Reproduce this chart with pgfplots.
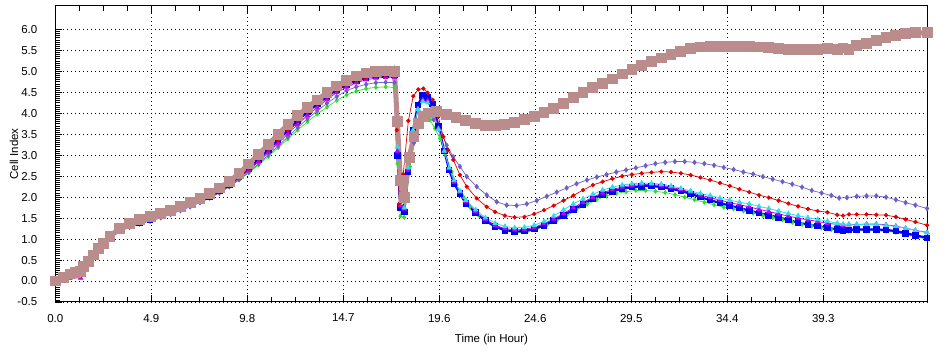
\documentclass[border=0pt]{standalone}
\usepackage{fontspec}
\setmainfont{Liberation Sans}
\usepackage{pgfplots}
\pgfplotsset{compat=1.18}
\definecolor{cbrown}{RGB}{186,140,140}
\definecolor{cred}{RGB}{225,0,0}
\definecolor{cblue}{RGB}{0,0,245}
\definecolor{ccyan}{RGB}{50,220,230}
\definecolor{cmag}{RGB}{200,0,240}
\definecolor{cslate}{RGB}{110,95,200}
\definecolor{cgreen}{RGB}{40,225,40}
\begin{document}
\fontsize{11.5}{13}\selectfont
\begin{tikzpicture}
\useasboundingbox (-55.3pt,-50pt) rectangle (891.7pt,302pt);
\begin{axis}[at={(0pt,0pt)}, anchor=south west, scale only axis,
  width=872.4pt, height=296pt,
  xmin=0, xmax=44.63, ymin=-0.5, ymax=6.56,
  xtick={0,4.911,9.822,14.733,19.644,24.555,29.466,34.377,39.288},
  xticklabels={0.0,4.9,9.8,14.7,19.6,24.6,29.5,34.4,39.3},
  minor x tick num=3,
  ytick={-0.5,0,0.5,1,1.5,2,2.5,3,3.5,4,4.5,5,5.5,6},
  yticklabels={-0.5,0.0,0.5,1.0,1.5,2.0,2.5,3.0,3.5,4.0,4.5,5.0,5.5,6.0},
  minor y tick num=9,
  xtick pos=both, ytick pos=left,
  tick align=inside,
  major tick length=7pt, minor tick length=5pt,
  grid=major,
  major grid style={black, dash pattern=on 1pt off 3pt, line width=0.7pt},
  axis line style={black, line width=1pt},
  tick style={black, line width=0.8pt},
  yticklabel style={xshift=-14pt},
  xticklabel style={yshift=-8pt},
  xlabel={Time (in Hour)}, ylabel={Cell Index},
  xlabel style={at={(axis description cs:0.5,-0.128)}, anchor=center},
  ylabel style={at={(axis description cs:-0.0473,0.5)}, anchor=center},
]
% green
\addplot[cgreen, line width=0.7pt, mark=diamond*, mark size=2pt, mark options={solid}] coordinates {
(0,0)(0.4,0.08)(0.75,0.16)(1.05,0.19)(1.3,0.21)(1.45,0.33)(1.7,0.45)(1.95,0.60)(2.2,0.74)(2.45,0.87)(2.8,1.03)
(3.3,1.20)(3.8,1.31)(4.3,1.39)(4.85,1.46)(5.4,1.53)(5.9,1.61)(6.4,1.70)(6.9,1.79)(7.4,1.88)(7.9,1.99)(8.4,2.11)(8.9,2.25)(9.4,2.41)(9.9,2.58)(10.4,2.77)(10.9,2.97)(11.4,3.18)(11.9,3.39)(12.4,3.60)(12.9,3.80)(13.4,3.98)(13.9,4.15)(14.4,4.31)(14.9,4.44)(15.4,4.53)(15.9,4.59)(16.4,4.62)(16.9,4.63)(17.35,4.62)
(17.5,2.8)(17.65,1.55)(17.85,1.52)(18.15,2.73)(18.4,3.44)(18.66,3.84)(18.91,3.92)(19.17,3.84)(19.42,3.64)(19.68,3.40)(19.93,3.04)(20.28,2.61)(20.53,2.29)(20.87,2.01)(21.21,1.77)(21.64,1.57)(22.07,1.41)(22.58,1.27)(23.09,1.19)(23.6,1.15)(24.12,1.17)(24.63,1.24)(25.14,1.33)(25.65,1.44)(26.16,1.56)(26.67,1.70)(27.2,1.83)(27.7,1.94)(28.2,2.03)(28.7,2.09)(29.2,2.13)(29.7,2.16)(30.2,2.16)(30.7,2.14)(31.2,2.11)(31.7,2.06)(32.2,2.00)(32.7,1.94)(33.2,1.88)(33.7,1.82)(34.2,1.76)(34.7,1.72)(35.2,1.67)(35.7,1.62)(36.2,1.56)(36.7,1.51)(37.2,1.46)(37.7,1.40)(38.2,1.35)(38.7,1.31)(39.2,1.27)(39.7,1.23)(40.2,1.19)(40.6,1.19)(41.0,1.20)(41.5,1.20)(42.0,1.20)(42.5,1.19)(43.0,1.16)(43.5,1.11)(44.0,1.06)(44.6,1.00)
};
% slate
\addplot[cslate, line width=0.7pt, mark=diamond*, mark size=2.3pt, mark options={solid}] coordinates {
(0,0)(0.4,0.08)(0.75,0.16)(1.05,0.19)(1.3,0.21)(1.45,0.33)(1.7,0.45)(1.95,0.60)(2.2,0.74)(2.45,0.87)(2.8,1.03)
(3.3,1.18)(3.8,1.28)(4.3,1.36)(4.85,1.43)(5.4,1.51)(5.9,1.59)(6.4,1.68)(6.9,1.77)(7.4,1.87)(7.9,1.98)(8.4,2.10)(8.9,2.25)(9.4,2.42)(9.9,2.60)(10.4,2.80)(10.9,3.01)(11.4,3.22)(11.9,3.44)(12.4,3.66)(12.9,3.87)(13.4,4.06)(13.9,4.24)(14.4,4.40)(14.9,4.54)(15.4,4.63)(15.9,4.69)(16.4,4.73)(16.9,4.74)(17.35,4.73)
(17.5,3.0)(17.65,1.75)(17.85,1.70)(18.1,2.6)(18.35,3.3)(18.6,3.75)(18.85,3.93)(19.1,3.95)(19.35,3.85)(19.68,3.64)(20.02,3.24)(20.36,2.96)(20.70,2.73)(21.05,2.49)(21.56,2.25)(22.07,2.05)(22.58,1.89)(23.09,1.81)(23.6,1.80)(24.12,1.84)(24.63,1.92)(25.14,2.02)(25.65,2.12)(26.16,2.22)(26.67,2.32)(27.2,2.41)(27.7,2.48)(28.2,2.54)(28.7,2.60)(29.2,2.65)(29.7,2.70)(30.2,2.75)(30.7,2.80)(31.2,2.83)(31.7,2.85)(32.2,2.85)(32.7,2.83)(33.2,2.80)(33.7,2.76)(34.2,2.71)(34.7,2.66)(35.2,2.60)(35.7,2.55)(36.2,2.49)(36.7,2.43)(37.2,2.37)(37.7,2.31)(38.2,2.24)(38.7,2.16)(39.2,2.10)(39.7,2.04)(40.1,1.98)(40.5,1.99)(41.0,2.02)(41.5,2.03)(42.0,2.03)(42.5,2.00)(43.0,1.94)(43.5,1.87)(44.0,1.81)(44.6,1.73)
};
% blue
\addplot[cblue, line width=2.2pt, mark=square*, mark size=2.2pt, mark options={solid}] coordinates {
(0,0)(0.4,0.08)(0.75,0.16)(1.05,0.19)(1.3,0.21)(1.45,0.33)(1.7,0.45)(1.95,0.60)(2.2,0.74)(2.45,0.87)(2.8,1.03)
(3.3,1.21)(3.8,1.32)(4.3,1.40)(4.85,1.47)(5.4,1.55)(5.9,1.63)(6.4,1.72)(6.9,1.81)(7.4,1.91)(7.9,2.02)(8.4,2.15)(8.9,2.30)(9.4,2.48)(9.9,2.68)(10.4,2.90)(10.9,3.13)(11.4,3.36)(11.9,3.59)(12.4,3.82)(12.9,4.03)(13.4,4.22)(13.9,4.40)(14.4,4.56)(14.9,4.69)(15.4,4.78)(15.9,4.85)(16.4,4.89)(16.9,4.91)(17.35,4.91)
(17.5,3.0)(17.65,1.75)(17.85,1.65)(18.05,2.6)(18.3,3.6)(18.55,4.2)(18.8,4.43)(19.05,4.38)(19.3,4.22)(19.6,3.70)(19.9,3.10)(20.15,2.65)(20.4,2.33)(20.7,2.09)(21.0,1.85)(21.5,1.63)(22.0,1.44)(22.5,1.30)(23.0,1.21)(23.5,1.18)(24.0,1.19)(24.5,1.24)(25.0,1.33)(25.5,1.44)(26.0,1.57)(26.5,1.70)(27.0,1.83)(27.5,1.96)(28.0,2.06)(28.5,2.14)(29.0,2.20)(29.5,2.24)(30.0,2.26)(30.5,2.27)(31.0,2.24)(31.5,2.20)(32.0,2.15)(32.5,2.08)(33.0,2.00)(33.5,1.93)(34.0,1.86)(34.5,1.80)(35.0,1.74)(35.5,1.68)(36.0,1.62)(36.5,1.57)(37.0,1.52)(37.5,1.46)(38.0,1.39)(38.5,1.35)(39.0,1.31)(39.5,1.27)(40.0,1.23)(40.3,1.20)(40.6,1.22)(41.0,1.23)(41.5,1.23)(42.0,1.23)(42.5,1.22)(43.0,1.19)(43.5,1.14)(44.0,1.09)(44.6,1.03)
};
% magenta
\addplot[cmag, line width=0.8pt, mark=triangle*, mark size=2.4pt, mark options={solid}] coordinates {
(0,0)(0.4,0.05)(0.75,0.07)(1.3,0.07)(1.45,0.33)(1.7,0.45)(1.95,0.60)(2.2,0.74)(2.45,0.87)(2.8,1.03)
(3.3,1.20)(3.8,1.31)(4.3,1.39)(4.85,1.46)(5.4,1.54)(5.9,1.62)(6.4,1.71)(6.9,1.80)(7.4,1.90)(7.9,2.01)(8.4,2.13)(8.9,2.28)(9.4,2.45)(9.9,2.64)(10.4,2.85)(10.9,3.07)(11.4,3.29)(11.9,3.51)(12.4,3.74)(12.9,3.95)(13.4,4.14)(13.9,4.33)(14.4,4.50)(14.9,4.63)(15.4,4.73)(15.9,4.80)(16.4,4.84)(16.9,4.86)(17.35,4.86)
(17.5,3.1)(17.65,1.80)(17.85,1.72)(18.05,2.65)(18.3,3.55)(18.55,4.1)(18.8,4.32)(19.05,4.3)(19.3,4.12)(19.6,3.65)(19.9,3.10)(20.15,2.68)(20.4,2.36)(20.7,2.12)(21.0,1.90)(21.5,1.66)(22.0,1.47)(22.5,1.33)(23.0,1.25)(23.5,1.22)(24.0,1.23)(24.5,1.28)(25.0,1.37)(25.5,1.48)(26.0,1.61)(26.5,1.75)(27.0,1.88)(27.5,2.00)(28.0,2.10)(28.5,2.18)(29.0,2.24)(29.5,2.28)(30.0,2.30)(30.5,2.30)(31.0,2.28)(31.5,2.24)(32.0,2.18)(32.5,2.12)(33.0,2.05)(33.5,1.99)(34.0,1.93)(34.5,1.87)(35.0,1.82)(35.5,1.77)(36.0,1.71)(36.5,1.66)(37.0,1.60)(37.5,1.55)(38.0,1.50)(38.5,1.46)(39.0,1.42)(39.5,1.38)(40.0,1.35)(40.3,1.33)(40.6,1.34)(41.0,1.35)(41.5,1.36)(42.0,1.36)(42.5,1.34)(43.0,1.31)(43.5,1.26)(44.0,1.21)(44.6,1.16)
};
% cyan
\addplot[ccyan, line width=0.8pt, mark=triangle*, mark size=2.5pt, mark options={solid}] coordinates {
(0,0)(0.4,0.08)(0.75,0.16)(1.05,0.19)(1.3,0.21)(1.45,0.33)(1.7,0.45)(1.95,0.60)(2.2,0.74)(2.45,0.87)(2.8,1.03)
(3.3,1.22)(3.8,1.34)(4.3,1.42)(4.85,1.49)(5.4,1.57)(5.9,1.65)(6.4,1.74)(6.9,1.83)(7.4,1.93)(7.9,2.05)(8.4,2.18)(8.9,2.33)(9.4,2.52)(9.9,2.73)(10.4,2.96)(10.9,3.20)(11.4,3.44)(11.9,3.68)(12.4,3.90)(12.9,4.12)(13.4,4.31)(13.9,4.48)(14.4,4.65)(14.9,4.80)(15.4,4.91)(15.9,4.99)(16.4,5.04)(16.9,5.07)(17.35,5.08)
(17.5,3.2)(17.65,1.85)(17.85,1.75)(18.05,2.7)(18.3,3.6)(18.55,4.1)(18.8,4.28)(19.05,4.25)(19.3,4.05)(19.6,3.62)(19.9,3.10)(20.15,2.70)(20.4,2.40)(20.7,2.15)(21.0,1.93)(21.5,1.70)(22.0,1.51)(22.5,1.38)(23.0,1.30)(23.5,1.27)(24.0,1.28)(24.5,1.33)(25.0,1.42)(25.5,1.55)(26.0,1.70)(26.5,1.84)(27.0,1.96)(27.5,2.07)(28.0,2.17)(28.5,2.24)(29.0,2.29)(29.5,2.32)(30.0,2.34)(30.5,2.33)(31.0,2.31)(31.5,2.27)(32.0,2.21)(32.5,2.15)(33.0,2.09)(33.5,2.04)(34.0,1.98)(34.5,1.93)(35.0,1.88)(35.5,1.84)(36.0,1.78)(36.5,1.73)(37.0,1.67)(37.5,1.61)(38.0,1.56)(38.5,1.51)(39.0,1.47)(39.5,1.43)(40.0,1.38)(40.3,1.36)(40.6,1.36)(41.0,1.35)(41.5,1.35)(42.0,1.35)(42.5,1.33)(43.0,1.30)(43.5,1.26)(44.0,1.21)(44.6,1.15)
};
% red
\addplot[cred, line width=0.7pt, mark=*, mark size=1.8pt, mark options={solid}] coordinates {
(0,0)(0.4,0.08)(0.75,0.16)(1.05,0.19)(1.3,0.21)(1.45,0.33)(1.7,0.45)(1.95,0.60)(2.2,0.74)(2.45,0.87)(2.8,1.03)
(3.3,1.21)(3.8,1.32)(4.3,1.40)(4.85,1.47)(5.4,1.55)(5.9,1.63)(6.4,1.72)(6.9,1.81)(7.4,1.91)(7.9,2.02)(8.4,2.15)(8.9,2.30)(9.4,2.48)(9.9,2.68)(10.4,2.90)(10.9,3.13)(11.4,3.36)(11.9,3.59)(12.4,3.82)(12.9,4.03)(13.4,4.22)(13.9,4.40)(14.4,4.56)(14.9,4.69)(15.4,4.78)(15.9,4.85)(16.4,4.89)(16.9,4.91)(17.35,4.91)
(17.47,3.6)(17.6,1.85)(17.8,2.55)(18.06,3.82)(18.31,4.41)(18.57,4.57)(18.83,4.59)(19.05,4.49)(19.31,4.32)(19.59,3.92)(19.85,3.44)(20.1,3.12)(20.36,2.89)(20.70,2.53)(21.05,2.25)(21.56,1.97)(22.07,1.77)(22.5,1.65)(23.0,1.56)(23.5,1.52)(24.0,1.53)(24.5,1.60)(25.0,1.69)(25.5,1.80)(26.0,1.92)(26.5,2.04)(27.0,2.17)(27.5,2.29)(28.0,2.37)(28.5,2.44)(29.0,2.50)(29.5,2.54)(30.0,2.57)(30.5,2.59)(31.0,2.61)(31.5,2.60)(32.0,2.57)(32.5,2.53)(33.0,2.47)(33.5,2.41)(34.0,2.34)(34.5,2.27)(35.0,2.19)(35.5,2.12)(36.0,2.05)(36.5,1.99)(37.0,1.92)(37.5,1.85)(38.0,1.78)(38.5,1.72)(39.0,1.67)(39.5,1.64)(40.0,1.58)(40.3,1.56)(40.6,1.59)(41.0,1.59)(41.5,1.59)(42.0,1.58)(42.5,1.57)(43.0,1.53)(43.5,1.47)(44.0,1.41)(44.6,1.33)
};
% brown
\addplot[cbrown, line width=5pt, mark=square*, mark size=2.9pt, mark options={solid}] coordinates {
(0,0)(0.4,0.08)(0.75,0.17)(1.05,0.2)(1.3,0.22)(1.45,0.34)(1.7,0.47)(1.95,0.62)(2.2,0.77)(2.45,0.90)(2.8,1.07)(3.3,1.26)(3.8,1.38)(4.3,1.46)(4.85,1.53)(5.4,1.61)(5.9,1.69)(6.4,1.78)(6.9,1.87)(7.4,1.97)(7.9,2.09)(8.4,2.22)(8.9,2.37)(9.4,2.57)(9.9,2.79)(10.4,3.02)(10.9,3.26)(11.4,3.50)(11.9,3.73)(12.4,3.94)(12.9,4.14)(13.4,4.32)(13.9,4.49)(14.4,4.65)(14.9,4.79)(15.4,4.89)(15.9,4.96)(16.4,5.0)(16.9,5.01)(17.35,5.0)
(17.5,3.8)(17.65,2.4)(17.85,2.0)(18.1,2.95)(18.35,3.44)(18.6,3.76)(18.85,3.92)(19.1,4.01)(19.5,4.04)(20.0,3.98)(20.5,3.90)(21.0,3.83)(21.5,3.76)(22.0,3.71)(22.5,3.71)(23.0,3.73)(23.5,3.79)(24.0,3.86)(24.5,3.93)(25.0,4.02)(25.5,4.12)(26.0,4.24)(26.5,4.37)(27.0,4.50)(27.5,4.61)(28.0,4.71)(28.5,4.82)(29.0,4.94)(29.5,5.05)(30.0,5.15)(30.5,5.24)(31.0,5.32)(31.5,5.41)(32.0,5.48)(32.5,5.54)(33.0,5.58)(33.5,5.60)(34.0,5.60)(34.5,5.60)(35.0,5.60)(35.5,5.59)(36.0,5.58)(36.5,5.57)(37.0,5.54)(37.5,5.52)(38.0,5.52)(38.5,5.52)(39.0,5.53)(39.5,5.54)(40.0,5.52)(40.3,5.56)(40.6,5.53)(41.0,5.62)(41.5,5.67)(42.0,5.74)(42.5,5.80)(43.0,5.86)(43.5,5.90)(44.0,5.92)(44.6,5.92)
};
\end{axis}
\end{tikzpicture}
\end{document}
